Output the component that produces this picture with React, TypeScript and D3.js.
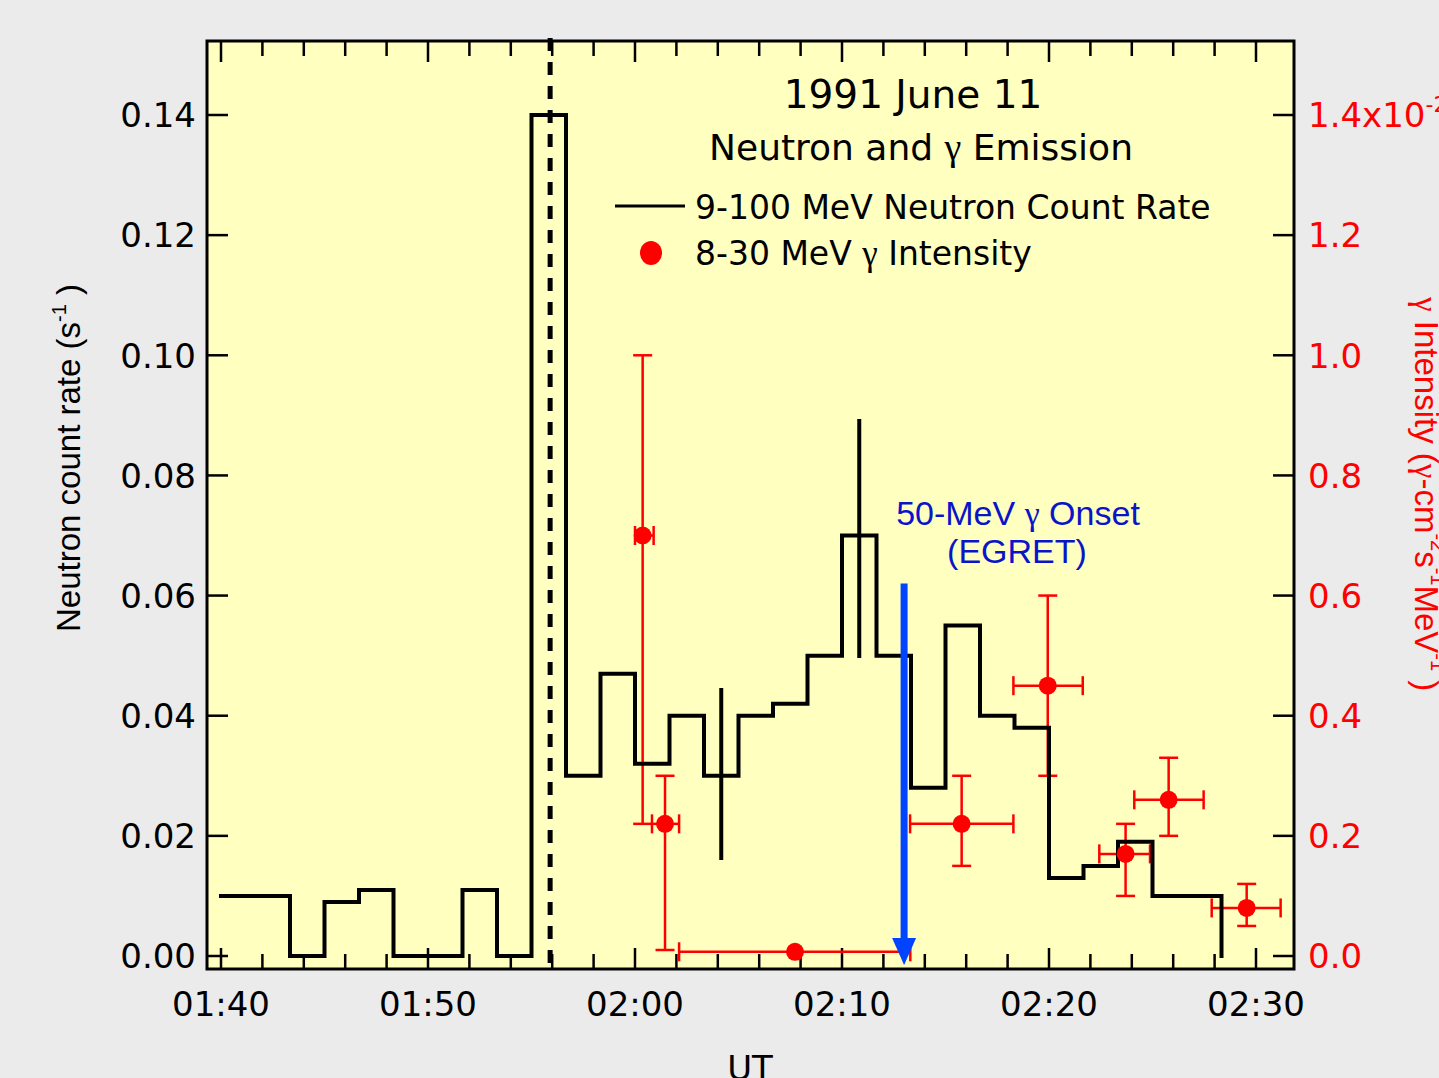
import React from "react";
import * as d3 from "d3";

// ---- data ----
// neutron count rate histogram: 100 s bins starting at 01:40:00 (minutes from 01:40)
const binWidthMin = 100 / 60;
const neutronRates = [
  0.010, 0.010, 0.000, 0.009, 0.011, 0.000, 0.000, 0.011, 0.000, 0.140,
  0.030, 0.047, 0.032, 0.040, 0.030, 0.040, 0.042, 0.050, 0.070, 0.050,
  0.028, 0.055, 0.040, 0.038, 0.013, 0.015, 0.019, 0.010, 0.010,
];
// neutron error bars (bin index, low, high)
const neutronErrBins = [14, 18];
const neutronErrLow = [0.016, 0.0496];
const neutronErrHigh = [0.0446, 0.0894];

// gamma intensity (x10^-2), minutes from 01:40
const gammaTime = [20.37, 21.45, 27.73, 35.78, 39.94, 43.7, 45.78, 49.55];
const gammaVal = [0.70, 0.22, 0.007, 0.22, 0.45, 0.17, 0.26, 0.08];
const gammaXLo = [20.0, 20.82, 22.13, 33.29, 38.28, 42.43, 44.12, 47.86];
const gammaXHi = [20.9, 22.13, 33.3, 38.28, 41.63, 44.88, 47.47, 51.19];
const gammaYLo = [0.22, 0.01, null, 0.15, 0.30, 0.10, 0.20, 0.05];
const gammaYHi = [1.0, 0.30, null, 0.30, 0.60, 0.22, 0.33, 0.12];

const xTickLabels = ["01:40", "01:50", "02:00", "02:10", "02:20", "02:30"];
const xMajorTicks = [0, 10, 20, 30, 40, 50];
const xMinorTicks = d3.range(0, 52, 2);
const leftTicks = [0, 0.02, 0.04, 0.06, 0.08, 0.1, 0.12, 0.14];
const rightTicks = [0, 0.2, 0.4, 0.6, 0.8, 1.0, 1.2, 1.4];

const dashedLineTime = 15.9; // 01:55:54
const egretOnsetTime = 33.0; // 02:13:00
const egretArrowTop = 0.062;
const egretArrowTip = -0.0015;

// ---- layout ----
const W = 1439, H = 1078;
const frame = { left: 207, right: 1294, top: 41, bottom: 969 };

const tickFont = "'DejaVu Sans', 'Lucida Grande', sans-serif";
const helv = "'Liberation Sans', Arial, Helvetica, sans-serif";
const symFont = "'Liberation Serif', 'DejaVu Serif', serif";

export default function App() {
  const x = d3.scaleLinear().domain([0, 50]).range([221, 1256]);
  const yL = d3.scaleLinear().domain([0, 0.14]).range([956, 115]);
  const yR = d3.scaleLinear().domain([0, 1.4]).range([956, 115]);

  // histogram step path
  const pts: [number, number][] = [];
  neutronRates.forEach((v, i) => {
    pts.push([i * binWidthMin, v]);
    pts.push([(i + 1) * binWidthMin, v]);
  });
  pts.push([neutronRates.length * binWidthMin, 0]);
  const line = d3
    .line<[number, number]>()
    .x((d) => x(d[0]))
    .y((d) => yL(d[1]));
  const histPath = line(pts) || "";

  const red = "#ff0000";
  const blue = "#0a14c8";
  const majorLen = 21, minorLen = 15;

  return (
    <svg
      width={W}
      height={H}
      style={{ position: "absolute", left: 0, top: 0, background: "#ebebeb" }}
    >
      <rect x={0} y={0} width={W} height={H} fill="#ebebeb" />
      <rect
        x={frame.left}
        y={frame.top}
        width={frame.right - frame.left}
        height={frame.bottom - frame.top}
        fill="#ffffc0"
      />

      {/* x ticks top & bottom */}
      {xMinorTicks.map((t) => {
        const len = t % 10 === 0 ? majorLen : minorLen;
        return (
          <g key={"xt" + t} stroke="#000" strokeWidth={2.5}>
            <line x1={x(t)} x2={x(t)} y1={frame.bottom} y2={frame.bottom - len} />
            <line x1={x(t)} x2={x(t)} y1={frame.top} y2={frame.top + len} />
          </g>
        );
      })}
      {/* y ticks left & right */}
      {leftTicks.map((t) => (
        <line key={"yl" + t} x1={frame.left} x2={frame.left + majorLen} y1={yL(t)} y2={yL(t)} stroke="#000" strokeWidth={2.5} />
      ))}
      {rightTicks.map((t) => (
        <line key={"yr" + t} x1={frame.right} x2={frame.right - majorLen} y1={yR(t)} y2={yR(t)} stroke="#000" strokeWidth={2.5} />
      ))}

      {/* dashed vertical line */}
      <line
        x1={x(dashedLineTime)}
        x2={x(dashedLineTime)}
        y1={frame.top - 3}
        y2={frame.bottom}
        stroke="#000"
        strokeWidth={5}
        strokeDasharray="13 11"
      />

      {/* gamma error bars */}
      {gammaTime.map((t, i) => {
        const cx = x(t), cy = yR(gammaVal[i]);
        const lo = gammaYLo[i], hi = gammaYHi[i];
        const cap = 9.5;
        return (
          <g key={"g" + i} stroke={red} strokeWidth={2.5} fill="none">
            <line x1={x(gammaXLo[i])} x2={x(gammaXHi[i])} y1={cy} y2={cy} />
            <line x1={x(gammaXLo[i])} x2={x(gammaXLo[i])} y1={cy - cap} y2={cy + cap} />
            <line x1={x(gammaXHi[i])} x2={x(gammaXHi[i])} y1={cy - cap} y2={cy + cap} />
            {lo !== null && hi !== null && (
              <>
                <line x1={cx} x2={cx} y1={yR(lo)} y2={yR(hi)} />
                <line x1={cx - cap} x2={cx + cap} y1={yR(lo)} y2={yR(lo)} />
                <line x1={cx - cap} x2={cx + cap} y1={yR(hi)} y2={yR(hi)} />
              </>
            )}
          </g>
        );
      })}

      {/* histogram */}
      <path d={histPath} fill="none" stroke="#000" strokeWidth={4} strokeLinejoin="miter" strokeLinecap="square" />
      {neutronErrBins.map((b, i) => {
        const cx = x((b + 0.5) * binWidthMin);
        return (
          <line key={"ne" + i} x1={cx} x2={cx} y1={yL(neutronErrLow[i])} y2={yL(neutronErrHigh[i])} stroke="#000" strokeWidth={4} />
        );
      })}

      {gammaTime.map((t, i) => (
        <circle key={"gp" + i} cx={x(t)} cy={yR(gammaVal[i])} r={9} fill={red} />
      ))}

      {/* EGRET onset arrow */}
      <line
        x1={x(egretOnsetTime)}
        x2={x(egretOnsetTime)}
        y1={yL(egretArrowTop)}
        y2={yL(egretArrowTip) - 20}
        stroke="#0044ff"
        strokeWidth={7}
      />
      <path
        d={`M${x(egretOnsetTime) - 12},${yL(egretArrowTip) - 27} L${x(egretOnsetTime) + 12},${yL(egretArrowTip) - 27} L${x(egretOnsetTime)},${yL(egretArrowTip)} Z`}
        fill="#0044ff"
      />
      <text x={1018} y={525} textAnchor="middle" fontFamily={helv} fontSize={34} fill={blue}>
        50-MeV <tspan fontFamily={symFont}>γ</tspan> Onset
      </text>
      <text x={1017} y={563} textAnchor="middle" fontFamily={helv} fontSize={34} fill={blue}>
        (EGRET)
      </text>

      {/* frame */}
      <rect
        x={frame.left}
        y={frame.top}
        width={frame.right - frame.left}
        height={frame.bottom - frame.top}
        fill="none"
        stroke="#000"
        strokeWidth={3}
      />

      {/* title */}
      <text x={913} y={108} textAnchor="middle" fontFamily={tickFont} fontSize={39} fill="#000">
        1991 June 11
      </text>
      <text x={921} y={160} textAnchor="middle" fontFamily={tickFont} fontSize={36} fill="#000">
        Neutron and <tspan fontFamily={symFont} fontSize={38}>γ</tspan> Emission
      </text>

      {/* legend */}
      <line x1={615} x2={685} y1={206} y2={206} stroke="#000" strokeWidth={3} />
      <text x={695} y={219} fontFamily={tickFont} fontSize={33} fill="#000">
        9-100 MeV Neutron Count Rate
      </text>
      <ellipse cx={651} cy={253} rx={11} ry={12} fill={red} />
      <text x={695} y={265} fontFamily={tickFont} fontSize={33} fill="#000">
        8-30 MeV <tspan fontFamily={symFont} fontSize={35}>γ</tspan> Intensity
      </text>

      {/* left tick labels */}
      {leftTicks.map((t) => (
        <text key={"ll" + t} x={196} y={yL(t)} dy="0.36em" textAnchor="end" fontFamily={tickFont} fontSize={34} fill="#000">
          {d3.format(".2f")(t)}
        </text>
      ))}
      {/* right tick labels */}
      {rightTicks.map((t) => (
        <text key={"rl" + t} x={1308} y={yR(t)} dy="0.36em" fontFamily={tickFont} fontSize={34} fill={red}>
          {t === 1.4 ? (
            <>
              1.4x10
              <tspan fontSize={22} dy="-15">-2</tspan>
            </>
          ) : (
            d3.format(".1f")(t)
          )}
        </text>
      ))}
      {/* x tick labels */}
      {xMajorTicks.map((t, i) => (
        <text key={"xl" + t} x={x(t)} y={1016} textAnchor="middle" fontFamily={tickFont} fontSize={34} fill="#000">
          {xTickLabels[i]}
        </text>
      ))}

      {/* axis titles */}
      <text x={750} y={1080} textAnchor="middle" fontFamily={tickFont} fontSize={34} fill="#000">
        UT
      </text>
      <text transform="translate(80,632) rotate(-90)" fontFamily={helv} fontSize={33} fill="#000">
        Neutron count rate (s
        <tspan fontSize={20} dy="-14">-1</tspan>
        <tspan dy="14"> )</tspan>
      </text>
      <text transform="translate(1415,297) rotate(90)" fontFamily={helv} fontSize={33} fill={red}>
        <tspan fontFamily={symFont}>γ</tspan> Intensity (<tspan fontFamily={symFont}>γ</tspan>-cm
        <tspan fontSize={20} dy="-16">-2</tspan>
        <tspan dy="16">s</tspan>
        <tspan fontSize={20} dy="-16">-1</tspan>
        <tspan dy="16">MeV</tspan>
        <tspan fontSize={20} dy="-16">-1</tspan>
        <tspan dy="16"> )</tspan>
      </text>
    </svg>
  );
}
